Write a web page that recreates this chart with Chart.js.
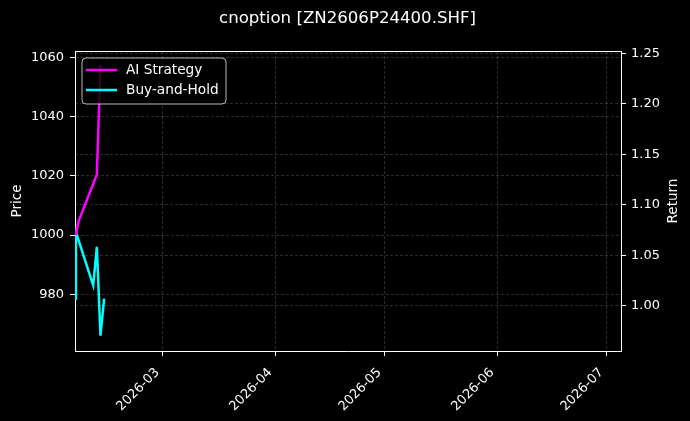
<!DOCTYPE html>
<html>
<head>
<meta charset="utf-8">
<script src="https://cdn.jsdelivr.net/npm/chart.js@4.4.1/dist/chart.umd.min.js"></script>
<style>
  html, body { margin: 0; padding: 0; background: #000; }
  #wrap { width: 690px; height: 421px; }
</style>
</head>
<body>
<div id="wrap"><canvas id="chart"></canvas></div>
<script>
// chart data
const chartTitle = 'cnoption [ZN2606P24400.SHF]';
const aiDates = ['2026-02-05T06:00', '2026-02-06T00:00', '2026-02-11T00:00', '2026-02-12T00:00'];
const aiValues = [1000, 1004.7, 1020.4, 1057.5];
const bhDates = ['2026-02-05T00:00', '2026-02-05T06:00', '2026-02-10T00:00', '2026-02-11T00:00', '2026-02-12T00:00', '2026-02-13T00:00'];
const bhValues = [978.5, 1001, 983, 996, 966, 978.5];
const monthTicks = ['2026-03-01', '2026-04-01', '2026-05-01', '2026-06-01', '2026-07-01'];
const priceTicks = [980, 1000, 1020, 1040, 1060];
const returnTicks = [1.00, 1.05, 1.10, 1.15, 1.20, 1.25];
const xStart = '2026-02-05T00:00';
const xEnd = '2026-07-05T00:00';

const FONT = '"DejaVu Sans", sans-serif';
const DAY = 86400000;
const t0 = Date.parse(xStart + 'Z');
function toDay(s) {
    if (s.length === 10) s += 'T00:00';
    return (Date.parse(s + 'Z') - t0) / DAY;
}
function dayLabel(v) {
    const d = new Date(t0 + v * DAY);
    return d.getUTCFullYear() + '-' + String(d.getUTCMonth() + 1).padStart(2, '0');
}

const gridColor = 'rgba(255,255,255,0.22)';

// title, axis labels, top spine and legend drawn by hand (matplotlib look)
const decorations = {
    id: 'decorations',
    afterDatasetsDraw(chart) {
        const ctx = chart.ctx;
        const a = chart.chartArea;
        ctx.save();
        // top spine
        ctx.strokeStyle = '#fff';
        ctx.lineWidth = 1;
        ctx.beginPath();
        ctx.moveTo(a.left, a.top + 0.5);
        ctx.lineTo(a.right, a.top + 0.5);
        ctx.stroke();

        ctx.fillStyle = '#fff';
        ctx.font = '16.6px ' + FONT;
        ctx.textAlign = 'center';
        ctx.textBaseline = 'middle';
        ctx.fillText(chartTitle, 347.5, 18.5);

        ctx.font = '13.5px ' + FONT;
        ctx.save();
        ctx.translate(17, (a.top + a.bottom) / 2);
        ctx.rotate(-Math.PI / 2);
        ctx.fillText('Price', 0, 0);
        ctx.restore();
        ctx.save();
        ctx.translate(673, (a.top + a.bottom) / 2);
        ctx.rotate(-Math.PI / 2);
        ctx.fillText('Return', 0, 0);
        ctx.restore();

        // legend
        const lx = 82, ly = 58, lw = 144, lh = 46, r = 4;
        ctx.beginPath();
        ctx.moveTo(lx + r, ly);
        ctx.arcTo(lx + lw, ly, lx + lw, ly + lh, r);
        ctx.arcTo(lx + lw, ly + lh, lx, ly + lh, r);
        ctx.arcTo(lx, ly + lh, lx, ly, r);
        ctx.arcTo(lx, ly, lx + lw, ly, r);
        ctx.closePath();
        ctx.fillStyle = 'rgba(0,0,0,0.8)';
        ctx.fill();
        ctx.strokeStyle = 'rgba(204,204,204,0.9)';
        ctx.lineWidth = 1;
        ctx.stroke();
        ctx.font = '13.7px ' + FONT;
        chart.data.datasets.forEach((ds, i) => {
            const y = ly + 12 + i * 20;
            ctx.strokeStyle = ds.borderColor;
            ctx.lineWidth = 2.5;
            ctx.beginPath();
            ctx.moveTo(86, y);
            ctx.lineTo(117, y);
            ctx.stroke();
            ctx.fillStyle = '#fff';
            ctx.textAlign = 'left';
            ctx.fillText(ds.label, 126, y);
        });
        ctx.restore();
    }
};

const canvas = document.getElementById('chart');
const chart = new Chart(canvas, {
    type: 'line',
    data: {
        datasets: [{
            label: 'AI Strategy',
            data: aiDates.map((d, i) => ({ x: toDay(d), y: aiValues[i] })),
            borderColor: '#ff00ff',
            borderWidth: 2.5,
            pointRadius: 0,
            yAxisID: 'y'
        }, {
            label: 'Buy-and-Hold',
            data: bhDates.map((d, i) => ({ x: toDay(d), y: bhValues[i] })),
            borderColor: '#00ffff',
            borderWidth: 2.5,
            pointRadius: 0,
            yAxisID: 'y'
        }]
    },
    options: {
        responsive: true,
        maintainAspectRatio: false,
        animation: false,
        layout: { padding: { top: 51, left: 0, right: 0, bottom: 0 } },
        plugins: {
            legend: { display: false },
            title: { display: false },
            tooltip: { enabled: false }
        },
        scales: {
            x: {
                type: 'linear',
                min: 0,
                max: toDay(xEnd),
                afterBuildTicks: s => { s.ticks = monthTicks.map(m => ({ value: toDay(m) })); },
                afterFit: s => { s.height = 70; },
                ticks: {
                    color: '#fff',
                    font: { family: FONT, size: 13 },
                    maxRotation: 45,
                    minRotation: 45,
                    autoSkip: false,
                    padding: 9,
                    labelOffset: -5,
                    callback: v => dayLabel(v)
                },
                grid: { color: gridColor, lineWidth: 0.8, tickColor: '#fff', tickLength: 5, tickWidth: 1 },
                border: { color: '#fff', width: 1, dash: [3, 2] }
            },
            y: {
                position: 'left',
                min: 960.8,
                max: 1062.2,
                afterBuildTicks: s => { s.ticks = priceTicks.map(v => ({ value: v })); },
                afterFit: s => { s.width = 75; },
                ticks: {
                    color: '#fff',
                    font: { family: FONT, size: 13 },
                    padding: 6,
                    callback: v => String(v)
                },
                grid: { color: gridColor, lineWidth: 0.8, tickColor: '#fff', tickLength: 5, tickWidth: 1 },
                border: { color: '#fff', width: 1, dash: [3, 2] }
            },
            y1: {
                position: 'right',
                min: 0.955,
                max: 1.2523,
                afterBuildTicks: s => { s.ticks = returnTicks.map(v => ({ value: v })); },
                afterFit: s => { s.width = 69; },
                ticks: {
                    color: '#fff',
                    font: { family: FONT, size: 13 },
                    padding: 5,
                    callback: v => v.toFixed(2)
                },
                grid: { color: gridColor, lineWidth: 0.8, tickColor: '#fff', tickLength: 5, tickWidth: 1 },
                border: { color: '#fff', width: 1, dash: [3, 2] }
            }
        }
    },
    plugins: [decorations]
});
</script>
</body>
</html>
